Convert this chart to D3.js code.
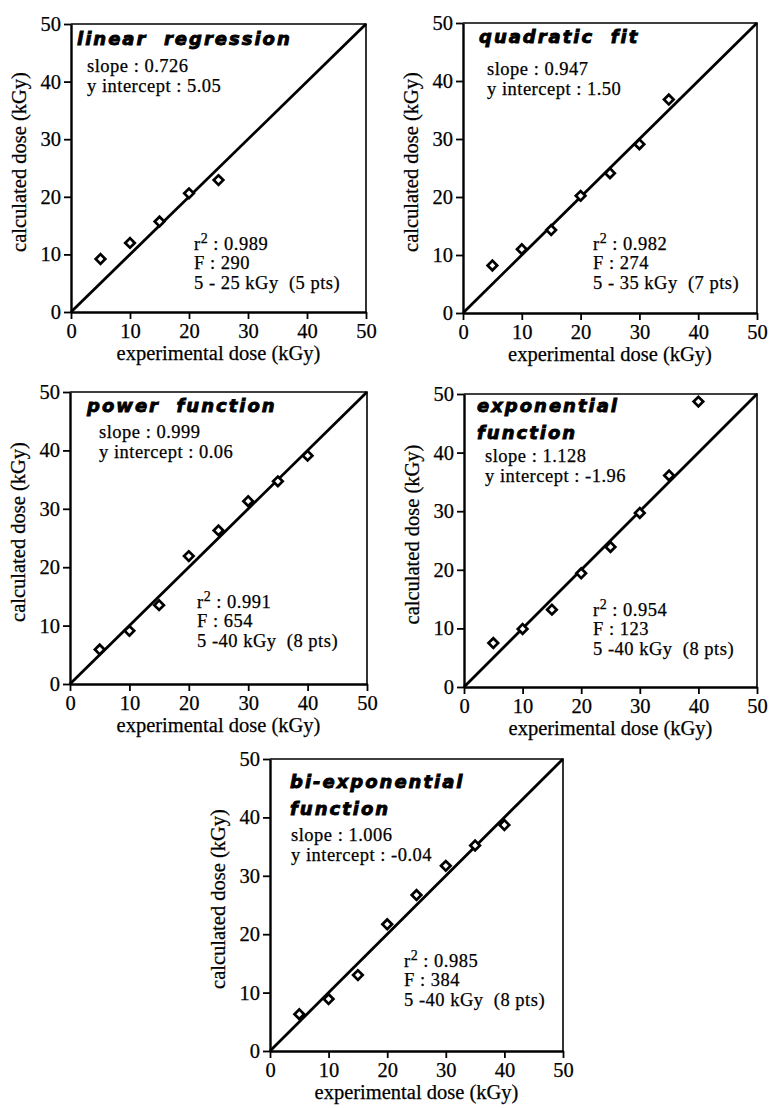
<!DOCTYPE html>
<html>
<head>
<meta charset="utf-8">
<script src="https://cdn.jsdelivr.net/npm/d3@7"></script>
<style>
  body { margin: 0; background: #fff; }
  svg { display: block; }
  .tick text, .num { font-family: "Liberation Serif", "Times New Roman", serif; stroke: #000; stroke-width: 0.25; }
  .ttl { font-family: "DejaVu Sans", sans-serif; font-weight: bold; font-style: italic; stroke: #000; stroke-width: 0.9; }
</style>
</head>
<body>
<svg id="viz" width="769" height="1108"></svg>
<script>
// experimental dose (kGy) shared by every panel
var doseX = [5, 10, 15, 20, 25, 30, 35, 40];

// calculated dose
var linearY = [9.2, 12.0, 15.7, 20.6, 22.9];
var quadraticY = [8.2, 11.0, 14.3, 20.2, 24.1, 29.1, 36.8];
var powerY = [5.9, 9.1, 13.5, 21.9, 26.3, 31.3, 34.7, 39.1];
var exponentialY = [7.5, 9.9, 13.2, 19.4, 23.9, 29.7, 36.1, 48.7];
var biExponentialY = [6.3, 8.9, 13.0, 21.7, 26.7, 31.7, 35.2, 38.7];

var titles = [["linear  regression"], ["quadratic  fit"], ["power  function"],
              ["exponential", "function"], ["bi-exponential", "function"]];
var slopes = ["0.726", "0.947", "0.999", "1.128", "1.006"];
var intercepts = ["5.05", "1.50", "0.06", "-1.96", "-0.04"];
var r2s = ["0.989", "0.982", "0.991", "0.954", "0.985"];
var Fs = ["290", "274", "654", "123", "384"];
var ranges = ["5 - 25 kGy  (5 pts)", "5 - 35 kGy  (7 pts)", "5 -40 kGy  (8 pts)",
              "5 -40 kGy  (8 pts)", "5 -40 kGy  (8 pts)"];

var axisTicks = [0, 10, 20, 30, 40, 50];

// plot boxes + text offsets (layout only)
var boxes = [
  {x: 71,  y: 24,  w: 295, h: 288, t: [6, 21],  s: [16, 49], st: [123, 227]},
  {x: 463, y: 23,  w: 294, h: 290, t: [16, 20], s: [24, 53], st: [130, 228]},
  {x: 70,  y: 392, w: 297, h: 292, t: [17, 20], s: [29, 47], st: [127, 217]},
  {x: 464, y: 394, w: 293, h: 293, t: [13, 18], s: [21, 69], st: [129, 223]},
  {x: 270, y: 759, w: 293, h: 292, t: [20, 29], s: [21, 83], st: [134, 209]}
];
var series = [linearY, quadraticY, powerY, exponentialY, biExponentialY];

var svg = d3.select("#viz");
var fs = 18.5, lh = 19.5, ls = 0.5;

boxes.forEach(function(b, i) {
  var x = d3.scaleLinear().domain([0, 50]).range([0, b.w]);
  var y = d3.scaleLinear().domain([0, 50]).range([b.h, 0]);
  var g = svg.append("g").attr("transform", "translate(" + b.x + "," + b.y + ")");

  // top + right frame
  g.append("path")
    .attr("d", "M0,0H" + b.w + "V" + b.h)
    .attr("fill", "none").attr("stroke", "#000").attr("stroke-width", 1.6);

  var xa = g.append("g").attr("transform", "translate(0," + b.h + ")")
    .call(d3.axisBottom(x).tickValues(axisTicks).tickSize(7).tickPadding(4).tickSizeOuter(0));
  var ya = g.append("g")
    .call(d3.axisLeft(y).tickValues(axisTicks).tickSize(7).tickPadding(3).tickSizeOuter(0));
  [xa, ya].forEach(function(a) {
    a.select(".domain").attr("stroke-width", 2.4);
    a.selectAll(".tick line").attr("stroke-width", 1.8);
    a.selectAll(".tick text").attr("font-size", 20.5).attr("fill", "#000");
  });

  // identity line
  g.append("line")
    .attr("x1", x(0)).attr("y1", y(0)).attr("x2", x(50)).attr("y2", y(50))
    .attr("stroke", "#000").attr("stroke-width", 2.8);

  // points
  var pts = series[i].map(function(v, k) { return [doseX[k], v]; });
  g.selectAll(".pt").data(pts).enter().append("path")
    .attr("class", "pt")
    .attr("d", d3.symbol().type(d3.symbolSquare).size(46))
    .attr("transform", function(d) { return "translate(" + x(d[0]) + "," + y(d[1]) + ") rotate(45)"; })
    .attr("fill", "#fff").attr("stroke", "#000").attr("stroke-width", 2.7);

  // axis labels
  g.append("text").attr("class", "num")
    .attr("x", b.w / 2).attr("y", b.h + 48)
    .attr("text-anchor", "middle").attr("font-size", 20.5)
    .text("experimental dose (kGy)");
  g.append("text").attr("class", "num")
    .attr("transform", "translate(-45," + (b.h / 2 - 6) + ") rotate(-90)")
    .attr("text-anchor", "middle").attr("font-size", 20.5)
    .text("calculated dose (kGy)");

  // title
  titles[i].forEach(function(line, k) {
    g.append("text").attr("class", "ttl")
      .attr("x", b.t[0]).attr("y", b.t[1] + k * 27)
      .attr("font-size", 18).attr("letter-spacing", 2)
      .style("white-space", "pre")
      .text(line);
  });

  // slope / intercept
  var s0 = b.s[1] - 1;
  g.append("text").attr("class", "num").attr("font-size", fs).attr("letter-spacing", ls)
    .attr("x", b.s[0]).attr("y", s0).text("slope : " + slopes[i]);
  g.append("text").attr("class", "num").attr("font-size", fs).attr("letter-spacing", ls)
    .attr("x", b.s[0]).attr("y", s0 + lh).text("y intercept : " + intercepts[i]);

  // fit stats
  var r0 = b.st[1] - 1.5;
  var r = g.append("text").attr("class", "num").attr("font-size", fs).attr("letter-spacing", ls)
    .attr("x", b.st[0]).attr("y", r0);
  r.append("tspan").text("r");
  r.append("tspan").attr("dy", -7).attr("font-size", 14).text("2");
  r.append("tspan").attr("dy", 7).text(" : " + r2s[i]);
  g.append("text").attr("class", "num").attr("font-size", fs).attr("letter-spacing", ls)
    .attr("x", b.st[0]).attr("y", r0 + lh).text("F : " + Fs[i]);
  g.append("text").attr("class", "num").attr("font-size", fs).attr("letter-spacing", ls)
    .attr("x", b.st[0]).attr("y", r0 + 2 * lh)
    .style("white-space", "pre").text(ranges[i]);
});
</script>
</body>
</html>
